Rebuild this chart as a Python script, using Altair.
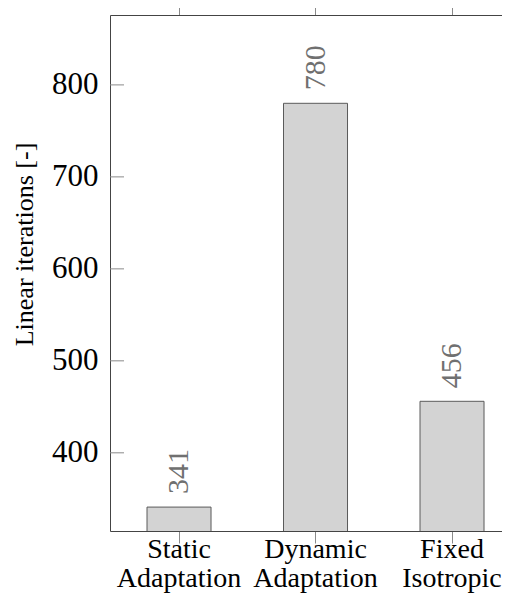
import altair as alt
import pandas as pd

categories = ["Static Adaptation", "Dynamic Adaptation", "Fixed Isotropic"]
values = [341, 780, 456]
y_ticks = [400, 500, 600, 700, 800]

df = pd.DataFrame({"cat": categories, "val": values})
tdf = pd.DataFrame({"t": y_ticks})

FONT = "'Liberation Serif', 'Times New Roman', serif"
FRAME = "#444444"
TICK = "#8a8a8a"
yscale = alt.Scale(domain=[315, 876], nice=False, zero=False)
xscale = alt.Scale(domain=categories, paddingInner=0.531, paddingOuter=0.2014, align=0.673)

bars = alt.Chart(df).mark_bar(
    fill="#d3d3d3", stroke="#5a5a5a", strokeWidth=1, clip=True
).encode(
    x=alt.X("cat:N", scale=xscale, sort=categories,
            axis=alt.Axis(orient="bottom", title=None, labelAngle=0,
                          labelExpr="split(datum.value, ' ')",
                          labelFont=FONT, labelFontSize=28, labelColor="black",
                          labelLineHeight=29, labelPadding=-8,
                          tickSize=12, tickColor=TICK,
                          domain=True, domainColor=FRAME)),
    y=alt.Y("val:Q", scale=yscale,
            axis=alt.Axis(title="Linear iterations [-]", titleFont=FONT,
                          titleFontSize=26, titleFontWeight="normal", titleColor="black",
                          titleX=-73, titleY=229, titleAngle=270,
                          titleBaseline="bottom", titleAlign="center",
                          values=y_ticks, labelFont=FONT,
                          labelFontSize=31, labelColor="black", labelPadding=12,
                          ticks=False, domain=True, domainColor=FRAME, grid=False)),
)

labels = alt.Chart(df).mark_text(
    angle=270, align="left", baseline="middle", dx=13,
    font=FONT, fontSize=30, color="#707070"
).encode(
    x=alt.X("cat:N", scale=xscale, sort=categories,
            axis=alt.Axis(orient="top", title=None, labels=False, tickSize=15,
                          tickColor=TICK, domain=True, domainColor=FRAME)),
    y=alt.Y("val:Q", scale=yscale, axis=None),
    text=alt.Text("val:Q"),
)

left_ticks = alt.Chart(tdf).mark_rule(color=TICK, strokeWidth=1).encode(
    y=alt.Y("t:Q", scale=yscale, axis=None),
    x=alt.value(0), x2=alt.value(14),
)

chart = alt.layer(bars, labels, left_ticks).resolve_axis(
    x="independent", y="independent"
).properties(
    width=392, height=516, background="white",
    autosize=alt.AutoSizeParams(type="none"),
    padding={"top": 7, "left": 102, "right": 0, "bottom": 65},
).configure_view(
    stroke=None
)

chart.save("out.html", embed_options={"renderer": "svg", "actions": False})
